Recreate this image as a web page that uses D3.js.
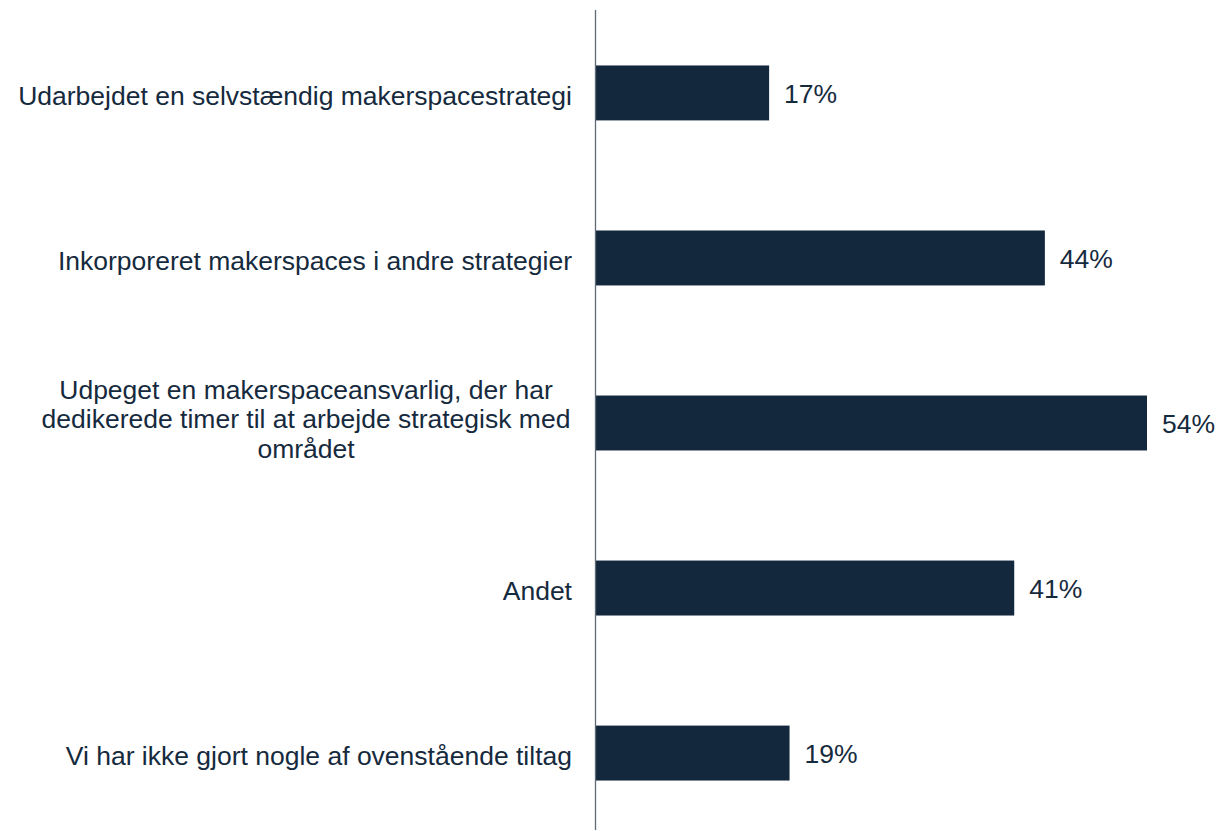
<!DOCTYPE html>
<html><head><meta charset="utf-8">
<script src="https://cdn.jsdelivr.net/npm/d3@7"></script>
<style>body{margin:0;background:#fff}svg{display:block}</style>
</head><body>
<script>
const categories = [
  ["Udarbejdet en selvstændig makerspacestrategi"],
  ["Inkorporeret makerspaces i andre strategier"],
  ["Udpeget en makerspaceansvarlig, der har", "dedikerede timer til at arbejde strategisk med", "området"],
  ["Andet"],
  ["Vi har ikke gjort nogle af ovenstående tiltag"]
];
const values = [0.17, 0.44, 0.54, 0.41, 0.19];
const valueLabels = ["17%", "44%", "54%", "41%", "19%"];

const W = 1220, H = 831;
const svg = d3.select("body").append("svg").attr("width", W).attr("height", H);
const ids = categories.map((c, i) => i);
const y = d3.scaleBand().domain(ids).range([10.5, 835.5]).paddingInner(0.667).paddingOuter(0.333);
const x = d3.scaleLinear().domain([0, 0.54]).range([595.5, 1147]);
const font = "'Liberation Sans', Arial, sans-serif";
const textColor = "#162a3e";
const fs = 26.5;

svg.selectAll("rect.bar").data(values).join("rect")
  .attr("class", "bar")
  .attr("x", x(0)).attr("y", (d, i) => y(i))
  .attr("width", d => x(d) - x(0)).attr("height", y.bandwidth())
  .attr("fill", "#13283d");

svg.append("line").attr("x1", x(0)).attr("x2", x(0)).attr("y1", 10).attr("y2", 830)
  .attr("stroke", "#5f6a75").attr("stroke-width", 1.3);

svg.selectAll("text.val").data(values).join("text")
  .attr("class", "val")
  .attr("x", d => x(d) + 15).attr("y", (d, i) => y(i) + y.bandwidth() / 2)
  .attr("dy", "0.39em")
  .attr("font-family", font).attr("font-size", fs).attr("fill", textColor)
  .text((d, i) => valueLabels[i]);

const lh = 29.3;
categories.forEach((lines, i) => {
  const cy = y(i) + y.bandwidth() / 2;
  const multi = lines.length > 1;
  const t = svg.append("text")
    .attr("font-family", font).attr("font-size", fs).attr("fill", textColor)
    .attr("text-anchor", multi ? "middle" : "end");
  const xx = multi ? 306 : 572;
  lines.forEach((l, j) => {
    t.append("tspan").attr("x", xx)
      .attr("y", cy + (j - (lines.length - 1) / 2) * lh)
      .attr("dy", multi ? "0.2em" : "0.45em").text(l);
  });
});
</script>
</body></html>
